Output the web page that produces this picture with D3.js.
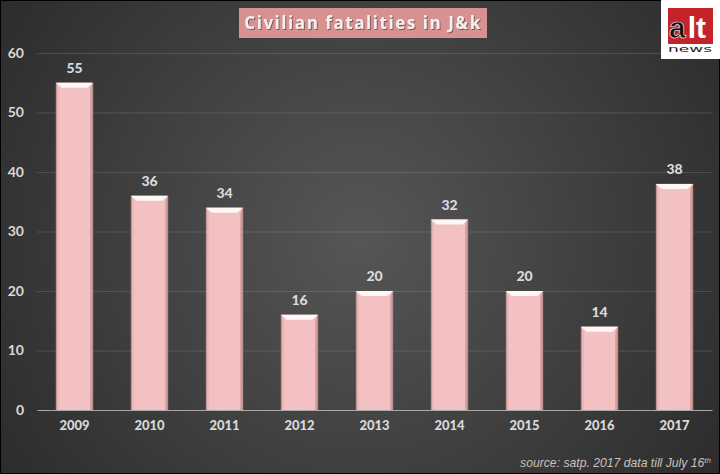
<!DOCTYPE html>
<html>
<head>
<meta charset="utf-8">
<script src="https://cdn.jsdelivr.net/npm/d3@7"></script>
<style>
html, body { margin: 0; padding: 0; background: #000; overflow: hidden; }
svg { display: block; }
</style>
</head>
<body>
<svg></svg>
<script>
const years = ["2009", "2010", "2011", "2012", "2013", "2014", "2015", "2016", "2017"];
const fatalities = [55, 36, 34, 16, 20, 32, 20, 14, 38];
const yTicks = [0, 10, 20, 30, 40, 50, 60];

const width = 720, height = 474;
const bevel = 6;
const labelFont = "Lato, 'Open Sans', sans-serif";

const svg = d3.select("svg")
    .attr("width", width)
    .attr("height", height);

const defs = svg.append("defs");

// Dark background, lighter in the middle
const bg = defs.append("radialGradient")
    .attr("id", "bg")
    .attr("gradientUnits", "userSpaceOnUse")
    .attr("cx", 360).attr("cy", 237).attr("r", 430);
bg.append("stop").attr("offset", "0%").attr("stop-color", "#565656");
bg.append("stop").attr("offset", "100%").attr("stop-color", "#2c2c2c");

const blur = defs.append("filter").attr("id", "soft").attr("x", "-10%").attr("width", "120%");
blur.append("feGaussianBlur").attr("stdDeviation", 0.6);

const titleShadow = defs.append("filter").attr("id", "titleShadow");
titleShadow.append("feDropShadow")
    .attr("dx", 1).attr("dy", 1).attr("stdDeviation", 0.7)
    .attr("flood-color", "#7a5555");

svg.append("rect")
    .attr("width", width).attr("height", height)
    .attr("fill", "#000");
svg.append("rect")
    .attr("x", 1).attr("y", 1)
    .attr("width", width - 2).attr("height", height - 2)
    .attr("fill", "url(#bg)");

const x = d3.scaleBand()
    .domain(years)
    .range([37, 712])
    .paddingInner(0.5)
    .paddingOuter(0.25);

const y = d3.scaleLinear()
    .domain([0, 60])
    .range([410, 53]);

// Grid lines
svg.append("g")
    .selectAll("line")
    .data(yTicks.filter(d => d > 0))
    .join("line")
    .attr("x1", 37).attr("x2", 712)
    .attr("y1", d => y(d) + 0.5).attr("y2", d => y(d) + 0.5)
    .attr("stroke", "#fff")
    .attr("stroke-opacity", 0.13)
    .attr("stroke-width", 1);

// Bars
const bars = svg.append("g")
    .selectAll("g")
    .data(years.map((year, i) => ({ year, value: fatalities[i] })))
    .join("g");

bars.append("rect")
    .attr("x", d => x(d.year))
    .attr("y", d => y(d.value))
    .attr("width", x.bandwidth())
    .attr("height", d => y(0) - y(d.value))
    .attr("fill", "#a07878")
    .attr("filter", "url(#soft)");

bars.append("rect")
    .attr("x", d => x(d.year) + 1)
    .attr("y", d => y(d.value))
    .attr("width", x.bandwidth() - 2)
    .attr("height", d => y(0) - y(d.value))
    .attr("fill", "#f3c1c1");

// Side and top bevels
bars.append("path")
    .attr("d", d => {
        const l = x(d.year) + 1, r = l + x.bandwidth() - 2, t = y(d.value), b = y(0);
        return `M${r},${t}L${r - 2},${t + bevel}L${r - 2},${b}L${r},${b}Z`;
    })
    .attr("fill", "#d09c9c");

bars.append("path")
    .attr("d", d => {
        const l = x(d.year) + 1, r = l + x.bandwidth() - 2, t = y(d.value), b = y(0);
        return `M${l},${t}L${l + 2},${t + bevel}L${l + 2},${b}L${l},${b}Z`;
    })
    .attr("fill", "#e6b6b6");

bars.append("path")
    .attr("d", d => {
        const l = x(d.year), r = l + x.bandwidth(), t = y(d.value);
        return `M${l},${t}L${r},${t}L${r - bevel},${t + bevel - 1}L${l + bevel},${t + bevel - 1}Z`;
    })
    .attr("fill", "#fff6f6");

// Value labels
bars.append("text")
    .attr("x", d => x(d.year) + x.bandwidth() / 2)
    .attr("y", d => y(d.value) - 10)
    .attr("text-anchor", "middle")
    .attr("font-family", labelFont)
    .attr("font-weight", 900)
    .attr("font-size", 14)
    .attr("fill", "#d9d9d9")
    .text(d => d.value);

// Axes
const xAxis = svg.append("g")
    .attr("transform", "translate(0,410)")
    .call(d3.axisBottom(x).tickSize(0).tickPadding(11));
xAxis.select(".domain").attr("stroke", "#a8a8a8").attr("stroke-width", 1);
xAxis.selectAll("text")
    .attr("font-family", labelFont)
    .attr("font-weight", 900)
    .attr("font-size", 13)
    .attr("fill", "#d9d9d9");

const yAxis = svg.append("g")
    .attr("transform", "translate(37,0)")
    .call(d3.axisLeft(y).tickValues(yTicks).tickSize(0).tickPadding(13));
yAxis.select(".domain").remove();
yAxis.selectAll("text")
    .attr("font-family", labelFont)
    .attr("font-weight", 700)
    .attr("font-size", 14)
    .attr("fill", "#d9d9d9");

// Title
svg.append("rect")
    .attr("x", 239).attr("y", 8)
    .attr("width", 248).attr("height", 30)
    .attr("fill", "#d89191");
svg.append("text")
    .attr("x", 363).attr("y", 29)
    .attr("text-anchor", "middle")
    .attr("font-family", "'Open Sans', sans-serif")
    .attr("font-weight", 700)
    .attr("font-size", 17)
    .attr("letter-spacing", 1.55)
    .attr("fill", "#f4f0f0")
    .attr("filter", "url(#titleShadow)")
    .text("Civilian fatalities in J&k");

// Logo
const logo = svg.append("g");
logo.append("rect")
    .attr("x", 661).attr("y", 0)
    .attr("width", 59).attr("height", 59)
    .attr("fill", "#fff");
logo.append("rect")
    .attr("x", 668).attr("y", 8)
    .attr("width", 45).attr("height", 36)
    .attr("fill", "#c4232a");
const alt = logo.append("text")
    .attr("x", 669).attr("y", 38)
    .attr("font-family", "'Liberation Sans', sans-serif")
    .attr("font-weight", 700)
    .attr("font-size", 30);
alt.append("tspan").attr("fill", "#111").attr("stroke", "#fff").attr("stroke-width", 0.6).text("a");
alt.append("tspan").attr("fill", "#fff").attr("dx", 2).text("lt");
logo.append("text")
    .attr("x", 690).attr("y", 52)
    .attr("text-anchor", "middle")
    .attr("font-family", "'DejaVu Sans', sans-serif")
    .attr("font-size", 9)
    .attr("textLength", 44)
    .attr("lengthAdjust", "spacingAndGlyphs")
    .attr("fill", "#222")
    .text("news");

// Source note
const source = svg.append("text")
    .attr("x", 711).attr("y", 467)
    .attr("text-anchor", "end")
    .attr("font-family", "'Liberation Sans', Arial, sans-serif")
    .attr("font-style", "italic")
    .attr("font-size", 12.2)
    .attr("fill", "#c9c2b8");
source.append("tspan").text("source: satp. 2017 data till July 16");
source.append("tspan").attr("dy", -4).attr("font-size", 8).text("th");
</script>
</body>
</html>
